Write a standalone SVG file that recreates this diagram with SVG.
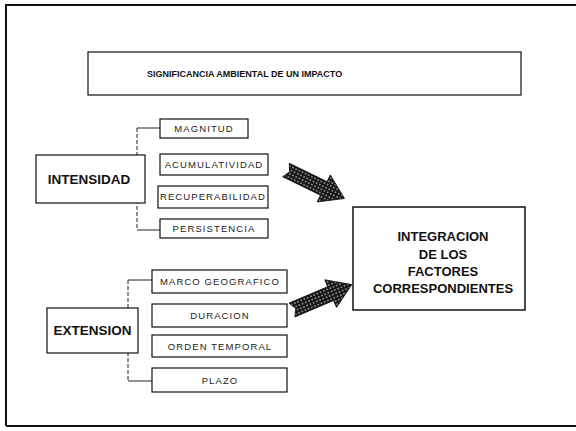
<svg xmlns="http://www.w3.org/2000/svg" width="576" height="431" viewBox="0 0 576 431">
<defs>
<pattern id="dots" patternUnits="userSpaceOnUse" width="3.5" height="3.5">
<rect width="3.5" height="3.5" fill="#161616"/>
<circle cx="1.75" cy="1.75" r="0.75" fill="#e8e8e8"/>
</pattern>
<path id="blockArrow" d="M0,-7.5 L42,-7.5 L42,-15 L65,0 L42,15 L42,7.5 L0,7.5 L4,0 Z"/>
</defs>
<style>
.frame{fill:none;stroke:#111;stroke-width:2}
.box{fill:#fff;stroke:#111;stroke-width:1.2}
.bigbox{fill:#fff;stroke:#111;stroke-width:1.5}
.conn{fill:none;stroke:#222;stroke-width:1}
.dash{stroke-dasharray:4 2}
.title{font-family:"Liberation Sans",Arial,sans-serif;font-weight:bold;font-size:9px;fill:#111}
.head{font-family:"Liberation Sans",Arial,sans-serif;font-weight:bold;font-size:13.5px;fill:#111}
.item{font-family:"Liberation Sans",Arial,sans-serif;font-size:9.5px;letter-spacing:1.1px;fill:#222}
.res{font-family:"Liberation Sans",Arial,sans-serif;font-weight:bold;font-size:13px;fill:#111}
.arrow{fill:url(#dots);stroke:#111;stroke-width:0.8}
</style>
<rect width="576" height="431" fill="#fff"/>
<path class="frame" d="M6,426 L6,5 L576,5 M6,426 L576,426"/>

<g id="title">
<rect class="box" x="88" y="52" width="433" height="43"/>
<text class="title" x="147" y="77">SIGNIFICANCIA AMBIENTAL DE UN IMPACTO</text>
</g>

<g id="connectors">
<path class="conn dash" d="M137,128 L137,230"/>
<path class="conn" d="M137,128 L160,128 M137,230 L160,230"/>
<path class="conn dash" d="M128,280 L128,381"/>
<path class="conn" d="M128,280 L152,280 M128,381 L152,381"/>
<use href="#blockArrow" class="arrow" transform="translate(286,170) rotate(26)"/>
<use href="#blockArrow" class="arrow" transform="translate(292,310) rotate(-23)"/>
</g>

<g id="intensidad">
<rect class="box" x="36" y="155" width="109" height="48"/>
<text class="head" x="89" y="184" text-anchor="middle">INTENSIDAD</text>
</g>
<g id="magnitud">
<rect class="box" x="160" y="119" width="88" height="19"/>
<text class="item" x="204" y="132" text-anchor="middle">MAGNITUD</text>
</g>
<g id="acumulatividad">
<rect class="box" x="160" y="154" width="108" height="21"/>
<text class="item" x="214" y="168" text-anchor="middle">ACUMULATIVIDAD</text>
</g>
<g id="recuperabilidad">
<rect class="box" x="158" y="186" width="110" height="22"/>
<text class="item" x="213" y="200" text-anchor="middle" textLength="106">RECUPERABILIDAD</text>
</g>
<g id="persistencia">
<rect class="box" x="160" y="219" width="108" height="19"/>
<text class="item" x="214" y="232" text-anchor="middle">PERSISTENCIA</text>
</g>

<g id="extension">
<rect class="box" x="47" y="308" width="91" height="45"/>
<text class="head" x="92.5" y="335" text-anchor="middle">EXTENSION</text>
</g>
<g id="marco">
<rect class="box" x="152" y="270" width="135" height="23"/>
<text class="item" x="220" y="285" text-anchor="middle">MARCO GEOGRAFICO</text>
</g>
<g id="duracion">
<rect class="box" x="152" y="304" width="135" height="23"/>
<text class="item" x="220" y="319" text-anchor="middle">DURACION</text>
</g>
<g id="orden">
<rect class="box" x="152" y="335" width="135" height="22"/>
<text class="item" x="220" y="350" text-anchor="middle">ORDEN TEMPORAL</text>
</g>
<g id="plazo">
<rect class="box" x="152" y="368" width="135" height="24"/>
<text class="item" x="220" y="384" text-anchor="middle">PLAZO</text>
</g>

<g id="integracion">
<rect class="bigbox" x="353" y="207" width="172" height="103"/>
<text class="res" x="443" y="241" text-anchor="middle">INTEGRACION</text>
<text class="res" x="443" y="259" text-anchor="middle">DE LOS</text>
<text class="res" x="443" y="276" text-anchor="middle">FACTORES</text>
<text class="res" x="443" y="293" text-anchor="middle">CORRESPONDIENTES</text>
</g>
</svg>
